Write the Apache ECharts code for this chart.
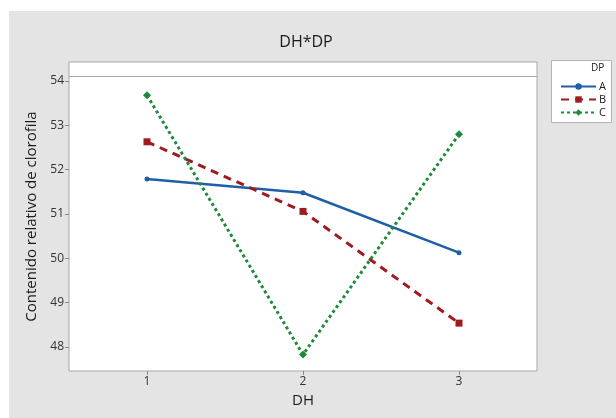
<!DOCTYPE html>
<html>
<head>
<meta charset="utf-8">
<script src="https://cdn.jsdelivr.net/npm/echarts@6/dist/echarts.min.js"></script>
<style>
html,body{margin:0;padding:0;background:#fff;}
#c{width:616px;height:418px;}
</style>
</head>
<body>
<div id="c"></div>
<script>
var dhValues = [1, 2, 3];
var seriesNames = ['A', 'B', 'C'];
var valuesA = [51.79, 51.48, 50.13];
var valuesB = [52.63, 51.06, 48.54];
var valuesC = [53.68, 47.83, 52.80];
var yTicks = [48, 49, 50, 51, 52, 53, 54];
var xTicks = [1, 2, 3];
var refLine = 54.11;

function pairs(vals){ return dhValues.map(function(x,i){ return [x, vals[i]]; }); }

var FONT = '"Open Sans", "DejaVu Sans", sans-serif';
var colors = ['#1f5ea8', '#9e1b1f', '#1e8a3a'];

var chart = echarts.init(document.getElementById('c'), null, {renderer:'canvas'});
chart.setOption({
  animation: false,
  backgroundColor: '#ffffff',
  title: {
    text: 'DH*DP', left: 301, top: 29, textAlign: 'center',
    textStyle: {fontFamily: FONT, fontSize: 16, fontWeight: 'normal', color: '#1a1a1a'}
  },
  graphic: [
    {type:'rect', left: 9, top: 11, z: -10, silent:true, shape:{width: 607, height: 407}, style:{fill:'#e4e4e4'}},
    {type:'rect', left: 551, top: 60, z: 1, silent:true, shape:{width: 60, height: 62}, style:{fill:'#ffffff', stroke:'#b4b4b4', lineWidth:1}},
    {type:'text', left: 591, top: 63, z: 2, silent:true, style:{text:'DP', fill:'#222', font:'10px ' + FONT}}
  ],
  grid: {left: 69, right: 79, top: 62, bottom: 47, show: true, backgroundColor:'#ffffff', borderColor:'#a8a8a8', borderWidth:1},
  legend: {
    orient: 'vertical', left: 555, top: 76, itemWidth: 35, itemHeight: 8, itemGap: 2, z: 5,
    data: seriesNames,
    textStyle: {fontFamily: FONT, fontSize: 11, color:'#222', padding:[0,0,0,-2]}
  },
  xAxis: {
    type: 'value', min: 0.5, max: 3.5,
    name: 'DH', nameLocation: 'middle', nameGap: 20,
    nameTextStyle: {fontFamily: FONT, fontSize: 15, color: '#1a1a1a'},
    axisLine: {show: false},
    splitLine: {show: false},
    axisTick: {show: true, length: 4, lineStyle:{color:'#888'}, customValues: xTicks},
    axisLabel: {fontFamily: FONT, fontSize: 12, color: '#333', margin: 5, customValues: xTicks}
  },
  yAxis: {
    type: 'value', min: 47.46, max: 54.43,
    name: 'Contenido relativo de clorofila', nameLocation: 'middle', nameGap: 28,
    nameTextStyle: {fontFamily: FONT, fontSize: 15, color: '#1a1a1a'},
    axisLine: {show: false},
    splitLine: {show: false},
    axisTick: {show: true, length: 4, lineStyle:{color:'#888'}, customValues: yTicks},
    axisLabel: {fontFamily: FONT, fontSize: 12, color: '#333', margin: 5, customValues: yTicks}
  },
  series: [
    {name:'A', type:'line', data: pairs(valuesA), symbol:'circle', symbolSize:5,
     color: colors[0], lineStyle:{width:2.5, type:'solid'}, itemStyle:{color:colors[0]},
     markLine: {silent:true, symbol:'none', label:{show:false}, lineStyle:{color:'#a8a8a8', width:1, type:'solid'}, data:[{yAxis: refLine}]}},
    {name:'B', type:'line', data: pairs(valuesB), symbol:'rect', symbolSize:7,
     color: colors[1], lineStyle:{width:3, type:[8,6]}, itemStyle:{color:colors[1]}},
    {name:'C', type:'line', data: pairs(valuesC), symbol:'diamond', symbolSize:8,
     color: colors[2], lineStyle:{width:3, type:[3,3]}, itemStyle:{color:colors[2]}}
  ]
});
</script>
</body>
</html>
